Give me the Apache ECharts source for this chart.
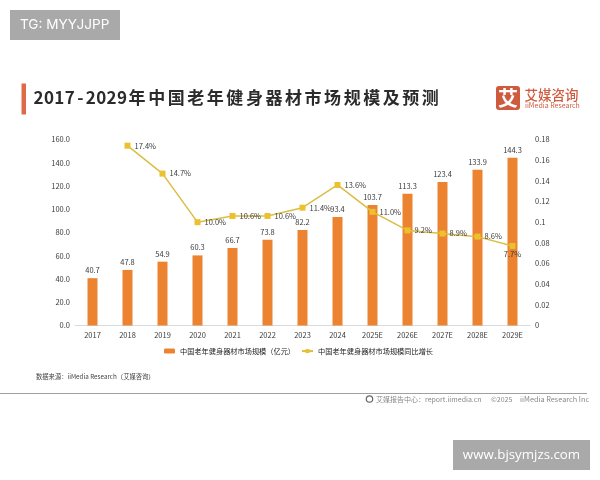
<!DOCTYPE html>
<html>
<head>
<meta charset="utf-8">
<style>html,body{margin:0;padding:0;background:#fff}#main{width:600px;height:480px}</style>
<script src="https://cdn.jsdelivr.net/npm/echarts@6/dist/echarts.min.js"></script>
</head>
<body>
<div id="main"></div>
<script>
var years=['2017','2018','2019','2020','2021','2022','2023','2024','2025E','2026E','2027E','2028E','2029E'];
var marketSize=[40.7,47.8,54.9,60.3,66.7,73.8,82.2,93.4,103.7,113.3,123.4,133.9,144.3];
var growth=[null,0.174,0.147,0.100,0.106,0.106,0.114,0.136,0.110,0.092,0.089,0.086,0.077];
var barName='中国老年健身器材市场规模（亿元）';
var lineName='中国老年健身器材市场规模同比增长';
var titleText='2017-2029年中国老年健身器材市场规模及预测';

var font='"Noto Sans CJK SC"';
var myChart=echarts.init(document.getElementById('main'));

// canvas text has no letter spacing, so the title goes char by char
var titleChars=[];
var tx=34.5;
titleText.split('').forEach(function(c){
  var w=/[0-9-]/.test(c)?10.45:19.55;
  titleChars.push({type:'text',x:tx+(w-2.5)/2,y:98,style:{text:c,font:'bold 17px '+font,fill:'#2b2b2b',textAlign:'center',textVerticalAlign:'middle'}});
  tx+=w;
});

var option={
  backgroundColor:'#fff',
  animation:false,
  textStyle:{fontFamily:font},
  grid:{left:75,right:70,top:139.5,bottom:154.5},
  legend:{
    left:164,top:347.5,itemWidth:11,itemHeight:5,itemGap:6,padding:0,
    textStyle:{fontSize:7.2,color:'#222',fontFamily:font},
    data:[barName,lineName]
  },
  xAxis:{
    type:'category',
    data:years,
    axisTick:{show:false},
    axisLine:{lineStyle:{color:'#d9d9d9'}},
    axisLabel:{fontSize:7.5,color:'#3a3a3a',margin:6,interval:0}
  },
  yAxis:[{
    type:'value',min:0,max:160,interval:20,
    splitLine:{show:false},
    axisLine:{show:false},axisTick:{show:false},
    axisLabel:{fontSize:7.5,color:'#3a3a3a',margin:5,formatter:function(v){return v.toFixed(1)}}
  },{
    type:'value',min:0,max:0.18,interval:0.02,
    splitLine:{show:false},
    axisLine:{show:false},axisTick:{show:false},
    axisLabel:{fontSize:7.5,color:'#3a3a3a',margin:5}
  }],
  series:[{
    name:barName,
    type:'bar',
    data:marketSize,
    barWidth:10,
    itemStyle:{color:'#EC8330'},
    label:{show:true,position:'top',distance:4,fontSize:7.5,color:'#3a3a3a',formatter:function(p){return p.value.toFixed(1)}}
  },{
    name:lineName,
    type:'line',
    yAxisIndex:1,
    data:growth.map(function(v,i){
      return i==12?{value:v,label:{position:'bottom',distance:1}}:v;
    }),
    symbol:'rect',
    symbolSize:6,
    connectNulls:false,
    lineStyle:{color:'#D9BE45',width:1.5},
    itemStyle:{color:'#EBC12E'},
    label:{show:true,position:'right',distance:4,fontSize:7.5,color:'#3a3a3a',formatter:function(p){return (p.value*100).toFixed(1)+'%'}}
  }],
  graphic:[
    {type:'rect',shape:{x:10,y:10,width:110,height:30},style:{fill:'#a9a9a9'}},
    {type:'text',x:20,y:25,style:{text:'TG: MYYJJPP',font:'13.6px Inter',fill:'#fff',textVerticalAlign:'middle'}},
    {type:'rect',shape:{x:21.5,y:83.5,width:4.5,height:31},style:{fill:'#DF6A4A'}},
    {type:'rect',shape:{x:496,y:86,width:24,height:24,r:3},style:{fill:'#CF5B3F'}},
    {type:'text',x:508,y:98,style:{text:'艾',font:'bold 20px '+font,fill:'#fff',textAlign:'center',textVerticalAlign:'middle'}},
    {type:'text',x:524.5,y:94.5,style:{text:'艾媒咨询',font:'500 13.5px '+font,fill:'#CF5B3F',textVerticalAlign:'middle'}},
    {type:'text',x:525,y:105.5,style:{text:'iiMedia Research',font:'7px '+font,fill:'#CF5B3F',textVerticalAlign:'middle'}},
    {type:'text',x:36,y:377,style:{text:'数据来源：iiMedia Research（艾媒咨询）',font:'6.3px '+font,fill:'#444',textVerticalAlign:'middle'}},
    {type:'line',shape:{x1:0,y1:393.5,x2:587,y2:393.5},style:{stroke:'#a0a0a0',lineWidth:1.2}},
    {type:'circle',shape:{cx:369.5,cy:399,r:3.2},style:{fill:'none',stroke:'#666',lineWidth:1.2}},
    {type:'text',x:376,y:399,style:{text:'艾媒报告中心：report.iimedia.cn',font:'7px '+font,fill:'#888',textVerticalAlign:'middle'}},
    {type:'text',x:491,y:399,style:{text:'©2025',font:'7px '+font,fill:'#888',textVerticalAlign:'middle'}},
    {type:'text',x:520,y:399,style:{text:'iiMedia Research Inc',font:'7.3px '+font,fill:'#888',textVerticalAlign:'middle'}},
    {type:'rect',shape:{x:453,y:440,width:137,height:30},style:{fill:'#a9a9a9'}},
    {type:'text',x:521.5,y:455,style:{text:'www.bjsymjzs.com',font:'13.3px "Open Sans"',fill:'#fff',textAlign:'center',textVerticalAlign:'middle'}}
  ].concat(titleChars)
};
myChart.setOption(option);
</script>
</body>
</html>
